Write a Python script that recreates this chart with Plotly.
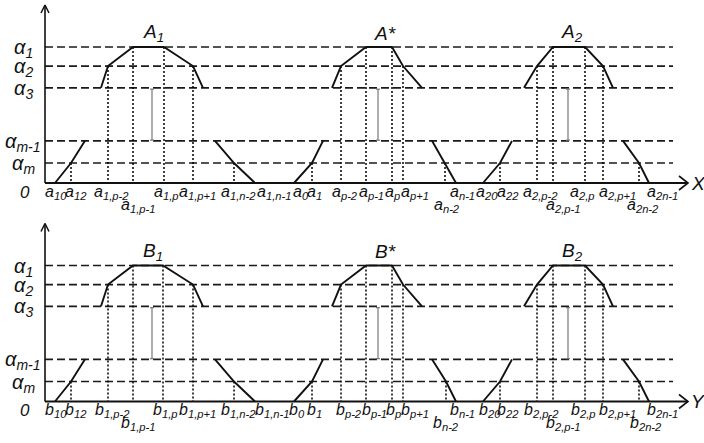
import plotly.graph_objects as go

# ---------------- data ----------------
# membership levels (alpha-cuts)
LEVEL_LABELS = ["α<sub>1</sub>", "α<sub>2</sub>", "α<sub>3</sub>", "α<sub>m-1</sub>", "α<sub>m</sub>"]
LEVELS = [1.0, 0.86, 0.70, 0.31, 0.147]
L1, L2, L3, LM1, LM = LEVELS

# breakpoints of the fuzzy numbers (x positions along the universe)
A1_left = [10, 26, 40]
A1_top = [56, 63, 88, 119, 148, 158]
A1_right = [170, 189, 210]
Astar_left = [249, 267, 278]
Astar_top = [287, 296, 321, 347, 358, 377]
Astar_right = [387, 400, 411]
A2_left = [438, 455, 467]
A2_top = [479, 492, 508, 540, 558, 568]
A2_right = [578, 594, 604]

B1_left = [10, 26, 40]
B1_top = [56, 63, 88, 118, 148, 158]
B1_right = [170, 189, 210]
Bstar_left = [249, 267, 278]
Bstar_top = [287, 296, 321, 347, 358, 377]
Bstar_right = [387, 401, 411]
B2_left = [438, 455, 467]
B2_top = [479, 492, 508, 540, 558, 568]
B2_right = [578, 594, 604]

ELLIPSIS_X = [107, 333, 523]
TITLES_A = ["A<sub>1</sub>", "A*", "A<sub>2</sub>"]
TITLES_B = ["B<sub>1</sub>", "B*", "B<sub>2</sub>"]
TITLE_X = [108, 340, 527]

LEFT_LEVELS = [0, LM, LM1]
TOP_LEVELS = [L3, L2, L1, L1, L2, L3]
RIGHT_LEVELS = [LM1, LM, 0]

# tick labels (text, x centre, row)
A_TICKS = [
    ("a<sub>10</sub>", 11, 1), ("a<sub>12</sub>", 31, 1), ("a<sub>1,p-2</sub>", 66, 1),
    ("a<sub>1,p-1</sub>", 93, 2), ("a<sub>1,p</sub>", 121, 1), ("a<sub>1,p+1</sub>", 152, 1),
    ("a<sub>1,n-2</sub>", 193, 1), ("a<sub>1,n-1</sub>", 229, 1), ("a<sub>0</sub>", 256, 1),
    ("a<sub>1</sub>", 269, 1), ("a<sub>p-2</sub>", 300, 1), ("a<sub>p-1</sub>", 326, 1),
    ("a<sub>p</sub>", 347, 1), ("a<sub>p+1</sub>", 370, 1), ("a<sub>n-2</sub>", 402, 2),
    ("a<sub>n-1</sub>", 417, 1), ("a<sub>20</sub>", 442, 1), ("a<sub>22</sub>", 463, 1),
    ("a<sub>2,p-2</sub>", 495, 1), ("a<sub>2,p-1</sub>", 518, 2), ("a<sub>2,p</sub>", 537, 1),
    ("a<sub>2,p+1</sub>", 572, 1), ("a<sub>2n-2</sub>", 598, 2), ("a<sub>2n-1</sub>", 617, 1),
]
B_TICKS = [
    ("b<sub>10</sub>", 11, 1), ("b<sub>12</sub>", 31, 1), ("b<sub>1,p-2</sub>", 67, 1),
    ("b<sub>1,p-1</sub>", 93, 2), ("b<sub>1,p</sub>", 120, 1), ("b<sub>1,p+1</sub>", 152, 1),
    ("b<sub>1,n-2</sub>", 193, 1), ("b<sub>1,n-1</sub>", 227, 1), ("b<sub>0</sub>", 252, 1),
    ("b<sub>1</sub>", 269, 1), ("b<sub>p-2</sub>", 304, 1), ("b<sub>p-1</sub>", 329, 1),
    ("b<sub>p</sub>", 348, 1), ("b<sub>p+1</sub>", 370, 1), ("b<sub>n-2</sub>", 401, 2),
    ("b<sub>n-1</sub>", 417, 1), ("b<sub>20</sub>", 445, 1), ("b<sub>22</sub>", 463, 1),
    ("b<sub>2,p-2</sub>", 496, 1), ("b<sub>2,p-1</sub>", 518, 2), ("b<sub>2,p</sub>", 538, 1),
    ("b<sub>2,p+1</sub>", 572, 1), ("b<sub>2n-2</sub>", 601, 2), ("b<sub>2n-1</sub>", 617, 1),
]

# ---------------- geometry helpers ----------------
PX = 136.0              # pixels per membership unit
X_END_DASH = 628
X_AXIS_END = 643
Y_AXIS_TOP = 1.309
FONT = "Liberation Sans, Arial, sans-serif"
INK = "#111111"

fig = go.Figure()


def add_line(xs, ys, xa, ya, color=INK, width=2, dash="solid"):
    fig.add_trace(go.Scatter(x=xs, y=ys, mode="lines", xaxis=xa, yaxis=ya,
                             line=dict(color=color, width=width, dash=dash),
                             hoverinfo="skip", showlegend=False, cliponaxis=False))


def panel(xa, ya, groups, ticks, titles, axis_name):
    # dashed alpha-level lines
    xs, ys = [], []
    for lv in LEVELS:
        xs += [0, X_END_DASH, None]
        ys += [lv, lv, None]
    add_line(xs, ys, xa, ya, color="#1a1a1a", width=1.7, dash="8px,4px")

    # dotted projections
    xs, ys = [], []
    for left, top, right in groups:
        for x, lv in [(left[1], LM), (top[1], L2), (top[2], L1), (top[3], L1),
                      (top[4], L2), (right[1], LM)]:
            xs += [x, x, None]
            ys += [lv, 0, None]
    add_line(xs, ys, xa, ya, color="#000", width=1.5, dash="2px,2px")

    # ellipsis markers
    xs, ys = [], []
    s = 2
    for ex in ELLIPSIS_X:
        xs += [ex, ex, None, ex - s, ex + s, None, ex - s, ex + s, None]
        ys += [L3 - 0.01, LM1 + 0.005, None, L3 - 0.01, L3 - 0.01, None,
               LM1 + 0.005, LM1 + 0.005, None]
    add_line(xs, ys, xa, ya, color="#777", width=1.2, dash="solid")

    # fuzzy-number outlines
    for left, top, right in groups:
        add_line(left, LEFT_LEVELS, xa, ya, width=1.9)
        add_line(top, TOP_LEVELS, xa, ya, width=1.9)
        add_line(right, RIGHT_LEVELS, xa, ya, width=1.9)

    # axes
    add_line([0, 0], [0, Y_AXIS_TOP], xa, ya, width=1.6)
    add_line([-4, 0, 4], [Y_AXIS_TOP - 8 / PX, Y_AXIS_TOP, Y_AXIS_TOP - 8 / PX], xa, ya, width=1.5)
    add_line([0, X_AXIS_END], [0, 0], xa, ya, width=2)
    add_line([X_AXIS_END - 9, X_AXIS_END, X_AXIS_END - 9], [7 / PX, 0, -7 / PX], xa, ya, width=1.6)

    anns = []
    xr, yr = xa, ya
    for lab, lv in zip(LEVEL_LABELS, LEVELS):
        anns.append(dict(x=-22, y=lv - 1.5 / PX, xref=xr, yref=yr, text="<i>" + lab + "</i>",
                         showarrow=False, xanchor="center", yanchor="middle",
                         font=dict(family=FONT, size=20, color=INK)))
    anns.append(dict(x=-20, y=-9 / PX, xref=xr, yref=yr, text="<i>0</i>", showarrow=False,
                     xanchor="center", yanchor="middle", font=dict(family=FONT, size=17, color=INK)))
    anns.append(dict(x=653, y=0, xref=xr, yref=yr, text="<i>" + axis_name + "</i>", showarrow=False,
                     xanchor="center", yanchor="middle", font=dict(family=FONT, size=19, color=INK)))
    for t, tx in zip(titles, TITLE_X):
        anns.append(dict(x=tx, y=(183 - 33) / PX, xref=xr, yref=yr, text="<i>" + t + "</i>",
                         showarrow=False, xanchor="center", yanchor="middle",
                         font=dict(family=FONT, size=19, color=INK)))
    for txt, tx, row in ticks:
        yy = -9 / PX if row == 1 else -22 / PX
        anns.append(dict(x=tx, y=yy, xref=xr, yref=yr, text="<i>" + txt + "</i>",
                         showarrow=False, xanchor="center", yanchor="middle",
                         font=dict(family=FONT, size=16, color=INK)))
    return anns


annotations = []
annotations += panel("x", "y",
                     [(A1_left, A1_top, A1_right), (Astar_left, Astar_top, Astar_right),
                      (A2_left, A2_top, A2_right)], A_TICKS, TITLES_A, "X")
annotations += panel("x2", "y2",
                     [(B1_left, B1_top, B1_right), (Bstar_left, Bstar_top, Bstar_right),
                      (B2_left, B2_top, B2_right)], B_TICKS, TITLES_B, "Y")

H = 443.0
split = 1 - 219 / H
fig.update_layout(
    width=704, height=443,
    margin=dict(l=0, r=0, t=0, b=0),
    paper_bgcolor="white", plot_bgcolor="white",
    showlegend=False,
    xaxis=dict(domain=[0, 1], range=[-45, 659], visible=False, anchor="y", fixedrange=True),
    yaxis=dict(domain=[split, 1], range=[(183 - 219) / PX, 183 / PX], visible=False,
               anchor="x", fixedrange=True),
    xaxis2=dict(domain=[0, 1], range=[-45, 659], visible=False, anchor="y2", fixedrange=True),
    yaxis2=dict(domain=[0, split], range=[(401.5 - 443) / PX, (401.5 - 219) / PX], visible=False,
                anchor="x2", fixedrange=True),
    annotations=annotations,
)

fig.write_html("out.html", config={"displayModeBar": False},
               post_script="document.body.style.margin='0px';document.body.style.overflow='hidden';")
